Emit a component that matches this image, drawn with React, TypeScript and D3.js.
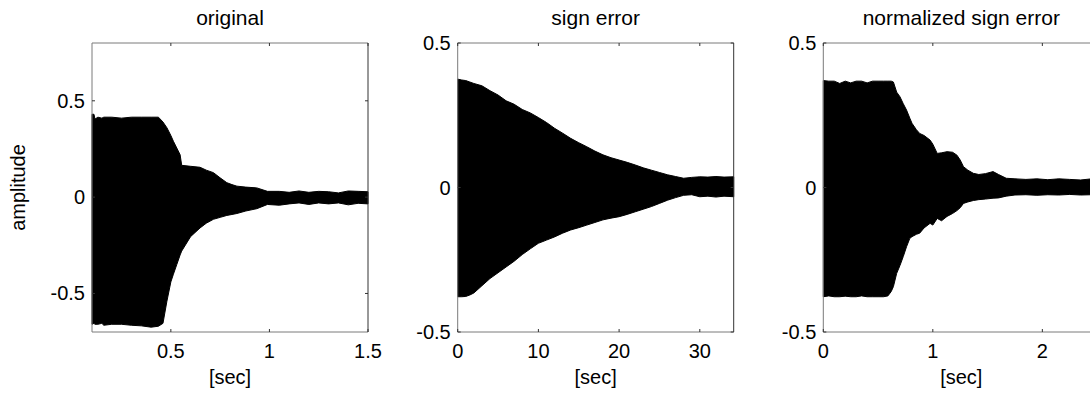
import React from "react";
import * as d3 from "d3";

// ---- data (envelope of the dense oscillating signals) ----
const titles = ["original", "sign error", "normalized sign error"];

// panel 1: original
const t1 = [0.1, 0.11, 0.115, 0.13, 0.15, 0.16, 0.2, 0.25, 0.3, 0.35, 0.4, 0.437, 0.46, 0.48, 0.5, 0.513, 0.53, 0.547, 0.555, 0.6, 0.648, 0.68, 0.716, 0.75, 0.784, 0.81, 0.835, 0.88, 0.936, 0.99, 1.05, 1.1, 1.15, 1.2, 1.25, 1.3, 1.35, 1.4, 1.45, 1.5];
const upper1 = [0.43, 0.43, 0.405, 0.415, 0.41, 0.415, 0.415, 0.41, 0.415, 0.415, 0.415, 0.415, 0.39, 0.36, 0.32, 0.29, 0.255, 0.22, 0.165, 0.16, 0.155, 0.14, 0.127, 0.1, 0.075, 0.065, 0.057, 0.052, 0.048, 0.03, 0.03, 0.025, 0.032, 0.025, 0.03, 0.028, 0.022, 0.032, 0.03, 0.028];
const lower1 = [-0.66, -0.655, -0.66, -0.66, -0.655, -0.665, -0.66, -0.66, -0.665, -0.668, -0.675, -0.67, -0.655, -0.54, -0.44, -0.4, -0.35, -0.3, -0.28, -0.205, -0.16, -0.135, -0.115, -0.105, -0.095, -0.09, -0.085, -0.072, -0.06, -0.038, -0.042, -0.035, -0.03, -0.038, -0.03, -0.035, -0.03, -0.04, -0.032, -0.035];

// panel 2: sign error
const t2 = [0, 0.5, 1, 1.5, 2, 3, 4, 5, 6, 7, 8, 9, 10, 11, 12, 13, 14, 15, 16, 17, 18, 19, 20, 21, 22, 23, 24, 25, 26, 27, 28, 29, 30, 31, 32, 33, 34.2];
const upper2 = [0.375, 0.372, 0.37, 0.365, 0.36, 0.352, 0.335, 0.32, 0.3, 0.288, 0.27, 0.258, 0.242, 0.225, 0.205, 0.188, 0.17, 0.155, 0.141, 0.126, 0.113, 0.103, 0.095, 0.087, 0.078, 0.068, 0.06, 0.052, 0.044, 0.038, 0.032, 0.035, 0.037, 0.036, 0.038, 0.036, 0.037];
const lower2 = [-0.378, -0.378, -0.377, -0.372, -0.365, -0.34, -0.315, -0.295, -0.275, -0.255, -0.232, -0.212, -0.193, -0.182, -0.171, -0.158, -0.147, -0.139, -0.13, -0.121, -0.112, -0.106, -0.101, -0.093, -0.084, -0.075, -0.066, -0.055, -0.044, -0.035, -0.027, -0.025, -0.032, -0.03, -0.033, -0.03, -0.032];

// panel 3: normalized sign error
const t3 = [0, 0.05, 0.1, 0.15, 0.2, 0.25, 0.3, 0.35, 0.4, 0.45, 0.5, 0.55, 0.59, 0.62, 0.64, 0.67, 0.7, 0.73, 0.76, 0.79, 0.81, 0.85, 0.88, 0.92, 0.975, 1.0, 1.04, 1.08, 1.13, 1.18, 1.22, 1.25, 1.28, 1.32, 1.37, 1.42, 1.48, 1.55, 1.6, 1.67, 1.75, 1.85, 1.95, 2.05, 2.15, 2.25, 2.35, 2.45, 2.52];
const upper3 = [0.37, 0.368, 0.368, 0.36, 0.368, 0.362, 0.368, 0.368, 0.362, 0.368, 0.368, 0.368, 0.368, 0.368, 0.365, 0.33, 0.314, 0.29, 0.268, 0.24, 0.222, 0.2, 0.187, 0.18, 0.164, 0.15, 0.118, 0.12, 0.124, 0.122, 0.112, 0.095, 0.072, 0.06, 0.049, 0.045, 0.048, 0.055, 0.045, 0.032, 0.03, 0.028, 0.03, 0.027, 0.03, 0.028, 0.026, 0.03, 0.028];
const lower3 = [-0.378, -0.375, -0.378, -0.378, -0.376, -0.378, -0.378, -0.375, -0.378, -0.378, -0.378, -0.378, -0.375, -0.36, -0.343, -0.297, -0.27, -0.239, -0.205, -0.176, -0.17, -0.162, -0.158, -0.14, -0.124, -0.13, -0.107, -0.115, -0.1, -0.09, -0.08, -0.07, -0.055, -0.05, -0.045, -0.042, -0.04, -0.037, -0.036, -0.03, -0.026, -0.025, -0.027, -0.025, -0.026, -0.024, -0.026, -0.025, -0.026];

const xTicks1 = [0.5, 1, 1.5];
const xTicks2 = [0, 10, 20, 30];
const xTicks3 = [0, 1, 2];
const yTicks1 = [-0.5, 0, 0.5];
const yTicks2 = [-0.5, 0, 0.5];
const yTicks3 = [-0.5, 0, 0.5];

const xDomains: [number, number][] = [[0.1, 1.5], [0, 34.2], [0, 2.52]];
const yDomains: [number, number][] = [[-0.7, 0.8], [-0.5, 0.5], [-0.5, 0.5]];

const xLabel = "[sec]";
const yLabel = "amplitude";

// ---- layout ----
const W = 1090;
const H = 394;
const TOP = 43;
const BOTTOM = 332;
const PW = 276;
const lefts = [92, 457.7, 823.3];
const FONT = "'Liberation Sans', Arial, Helvetica, sans-serif";
const BOX = "#7a7a7a";
const TICK = 3;

type PanelProps = {
  left: number;
  title: string;
  t: number[];
  up: number[];
  lo: number[];
  xd: [number, number];
  yd: [number, number];
  xt: number[];
  yt: number[];
  showYLabel: boolean;
};

function Panel({ left, title, t, up, lo, xd, yd, xt, yt, showYLabel }: PanelProps) {
  const x = d3.scaleLinear().domain(xd).range([left, left + PW]);
  const y = d3.scaleLinear().domain(yd).range([BOTTOM, TOP]);
  const idx = d3.range(t.length);
  const area = d3
    .area<number>()
    .x((i) => x(t[i]))
    .y0((i) => y(lo[i]))
    .y1((i) => y(up[i]))
    .curve(d3.curveLinear);
  const right = left + PW;
  const cx = left + PW / 2;
  return (
    <g>
      <path d={area(idx) || ""} fill="#000" stroke="#000" strokeWidth={1} />
      <line x1={left} x2={right} y1={TOP} y2={TOP} stroke={BOX} strokeWidth={1} />
      <line x1={left} x2={right} y1={BOTTOM} y2={BOTTOM} stroke={BOX} strokeWidth={1} />
      <line x1={left} x2={left} y1={TOP} y2={BOTTOM} stroke={BOX} strokeWidth={1} />
      <line x1={right} x2={right} y1={TOP} y2={BOTTOM} stroke="#333" strokeWidth={1} />
      {xt.map((v) => (
        <g key={"x" + v}>
          <line x1={x(v)} x2={x(v)} y1={BOTTOM} y2={BOTTOM - TICK} stroke="#333" />
          <line x1={x(v)} x2={x(v)} y1={TOP} y2={TOP + TICK} stroke="#333" />
          <text x={x(v)} y={358} textAnchor="middle" fontSize={20} fontFamily={FONT} fill="#000">
            {String(v)}
          </text>
        </g>
      ))}
      {yt.map((v) => (
        <g key={"y" + v}>
          <line x1={left} x2={left + TICK} y1={y(v)} y2={y(v)} stroke="#333" />
          <line x1={right} x2={right - TICK} y1={y(v)} y2={y(v)} stroke="#333" />
          <text x={left - 7} y={y(v) + 7} textAnchor="end" fontSize={20} fontFamily={FONT} fill="#000">
            {String(v)}
          </text>
        </g>
      ))}
      <text x={cx} y={25} textAnchor="middle" fontSize={21} fontFamily={FONT} fill="#000">
        {title}
      </text>
      <text x={cx} y={384} textAnchor="middle" fontSize={20} fontFamily={FONT} fill="#000">
        {xLabel}
      </text>
      {showYLabel && (
        <text
          transform={`translate(25, ${(TOP + BOTTOM) / 2}) rotate(-90)`}
          textAnchor="middle"
          fontSize={20}
          fontFamily={FONT}
          fill="#000"
        >
          {yLabel}
        </text>
      )}
    </g>
  );
}

export default function App() {
  const series = [
    { t: t1, up: upper1, lo: lower1, xt: xTicks1, yt: yTicks1 },
    { t: t2, up: upper2, lo: lower2, xt: xTicks2, yt: yTicks2 },
    { t: t3, up: upper3, lo: lower3, xt: xTicks3, yt: yTicks3 },
  ];
  return (
    <svg width={W} height={H} style={{ position: "absolute", left: 0, top: 0, background: "#fff" }}>
      <rect x={0} y={0} width={W} height={H} fill="#fff" />
      {series.map((s, i) => (
        <Panel
          key={i}
          left={lefts[i]}
          title={titles[i]}
          t={s.t}
          up={s.up}
          lo={s.lo}
          xd={xDomains[i]}
          yd={yDomains[i]}
          xt={s.xt}
          yt={s.yt}
          showYLabel={i === 0}
        />
      ))}
    </svg>
  );
}
